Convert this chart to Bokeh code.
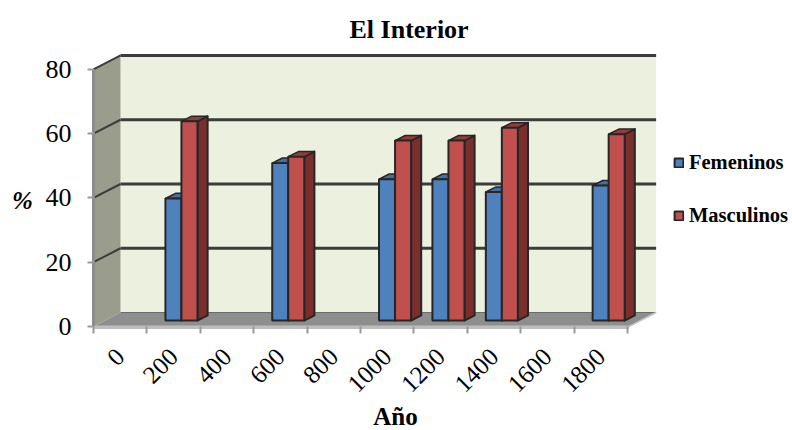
from math import pi
from bokeh.plotting import figure
from bokeh.models import FixedTicker, Label, Legend, LegendItem, Title
from bokeh.embed import file_html
from bokeh.resources import INLINE

# ---- data ----
categories = ["0", "200", "400", "600", "800", "1000", "1200", "1400", "1600", "1800"]
group_index = [1, 3, 5, 6, 7, 9]
femeninos = [38, 49, 44, 44, 40, 42]
masculinos = [62, 51, 56, 56, 60, 58]
y_ticks = [0, 20, 40, 60, 80]
series_names = ["Femeninos", "Masculinos"]

# ---- geometry (data units of the two scales) ----
DX, DY = 0.506, 4.35          # depth of the chart box
BAR_DX, BAR_DY = 0.19, 1.6    # depth of one bar
BASE = 1.85                   # bar base above the front floor edge
BAR_W = 0.30
BAR_OFF = 0.347
X_END = 10.03
Y_TOP = 80
AXIS_Y = -0.934

FONT = "Liberation Serif"
BLUE, BLUE_SIDE, BLUE_TOP = "#4F81BD", "#3A5F8B", "#44709F"
RED, RED_SIDE, RED_TOP = "#C0504D", "#7A2F2D", "#943C3A"
EDGE = "#262626"

p = figure(width=792, height=430, output_backend="svg", toolbar_location=None,
           x_range=(-1.7416, 13.09), y_range=(-32.37, 85.9),
           min_border_left=0, min_border_right=0, min_border_top=50, min_border_bottom=0,
           background_fill_color="white", outline_line_color=None)
p.grid.visible = False

# ---- box: back wall, left wall, floor, ledge ----
p.patch([DX, X_END + DX, X_END + DX, DX], [DY, DY, Y_TOP + DY, Y_TOP + DY], fill_color="#ECF0DF", line_color=None)
p.patch([0, DX, DX, 0], [0, DY, Y_TOP + DY, Y_TOP], fill_color="#9A9D8C", line_color=None)
p.patch([0, DX, X_END + DX, X_END], [0, DY, DY, 0], fill_color="#8E8E8E", line_color=None)
p.quad(left=[0], right=[X_END], top=[0.3], bottom=[-0.75], fill_color="#BDBDBD", line_color=None)
p.line([DX, X_END + DX], [DY, DY], line_color="#6A6A6A", line_width=1)
p.line([X_END, X_END + DX], [0, DY], line_color="#C4C4C4", line_width=1.5)

# ---- gridlines on the back wall and on the left wall ----
grid_levels = [t for t in y_ticks if t > 0]
p.multi_line([[DX, X_END + DX] for _ in grid_levels], [[t + DY, t + DY] for t in grid_levels],
             line_color="#3C3C3C", line_width=3)
p.multi_line([[0, DX] for _ in grid_levels], [[t, t + DY] for t in grid_levels],
             line_color="#3C3C3C", line_width=2)

# ---- 3D bars (value measured from the bar's own base) ----
def bars(values, shift, front, side, top):
    ls = [g + BAR_OFF + shift for g in group_index]
    rs = [l + BAR_W for l in ls]
    tops = [BASE + v for v in values]
    p.patches([[r, r + BAR_DX, r + BAR_DX, r] for r in rs],
              [[BASE, BASE + BAR_DY, t + BAR_DY, t] for t in tops],
              fill_color=side, line_color=EDGE, line_width=2, line_join="round")
    p.patches([[l, l + BAR_DX, r + BAR_DX, r] for l, r in zip(ls, rs)],
              [[t, t + BAR_DY, t + BAR_DY, t] for t in tops],
              fill_color=top, line_color=EDGE, line_width=1.5, line_join="round")
    return p.quad(left=ls, right=rs, bottom=BASE, top=tops,
                  fill_color=front, line_color=EDGE, line_width=2)

r_f = bars(femeninos, 0, BLUE, BLUE_SIDE, BLUE_TOP)
r_m = bars(masculinos, BAR_W, RED, RED_SIDE, RED_TOP)

# ---- axes ----
xa = p.xaxis[0]
xa.fixed_location = AXIS_Y
centers = [i + 0.5 for i in range(len(categories))]
xa.ticker = FixedTicker(ticks=centers, minor_ticks=list(range(len(categories) + 1)))
xa.major_label_overrides = {c: s for c, s in zip(centers, categories)}
xa.major_label_orientation = pi / 4
xa.major_label_text_font = FONT
xa.major_label_text_font_size = "25px"
xa.major_label_text_color = "black"
xa.major_label_standoff = 19
xa.major_tick_line_color = None
xa.major_tick_out = 4
xa.major_tick_in = 0
xa.minor_tick_out = 4
xa.minor_tick_in = 3
xa.minor_tick_line_color = "#9A9A9A"
xa.minor_tick_line_width = 2
xa.axis_line_color = None

ya = p.yaxis[0]
ya.fixed_location = 0
ya.ticker = FixedTicker(ticks=y_ticks)
ya.bounds = (0, 80)
ya.major_label_text_font = FONT
ya.major_label_text_font_size = "26px"
ya.major_label_text_color = "black"
ya.major_label_standoff = 16
ya.major_tick_line_color = "#9A9A9A"
ya.major_tick_line_width = 2
ya.major_tick_out = 6
ya.major_tick_in = 0
ya.minor_tick_line_color = None
ya.axis_line_color = "#8C8C8C"
ya.axis_line_width = 3

# ---- axis titles ----
p.add_layout(Label(x=395, y=14, x_units="screen", y_units="screen", text="Año",
                   text_align="center", text_baseline="alphabetic", text_font=FONT,
                   text_font_style="bold", text_font_size="25px", text_color="black"))
p.add_layout(Label(x=22, y=230, x_units="screen", y_units="screen", text="%",
                   text_align="center", text_baseline="alphabetic", text_font=FONT,
                   text_font_style="bold italic", text_font_size="25px", text_color="black"))

# ---- title ----
p.title = Title(text="El Interior", align="left", offset=349, standoff=13, text_font=FONT,
                text_font_style="bold", text_font_size="26px", text_color="black")

# ---- legend ----
legend = Legend(items=[LegendItem(label=series_names[0], renderers=[r_f]),
                       LegendItem(label=series_names[1], renderers=[r_m])],
                location=(673, 203), orientation="vertical",
                glyph_width=11, glyph_height=11, spacing=30, padding=0, margin=0,
                label_standoff=5, label_text_font=FONT, label_text_font_style="bold",
                label_text_font_size="20.5px", label_text_color="black",
                background_fill_alpha=0, border_line_color=None)
p.add_layout(legend, "center")

open("out.html", "w").write(file_html(p, INLINE))
